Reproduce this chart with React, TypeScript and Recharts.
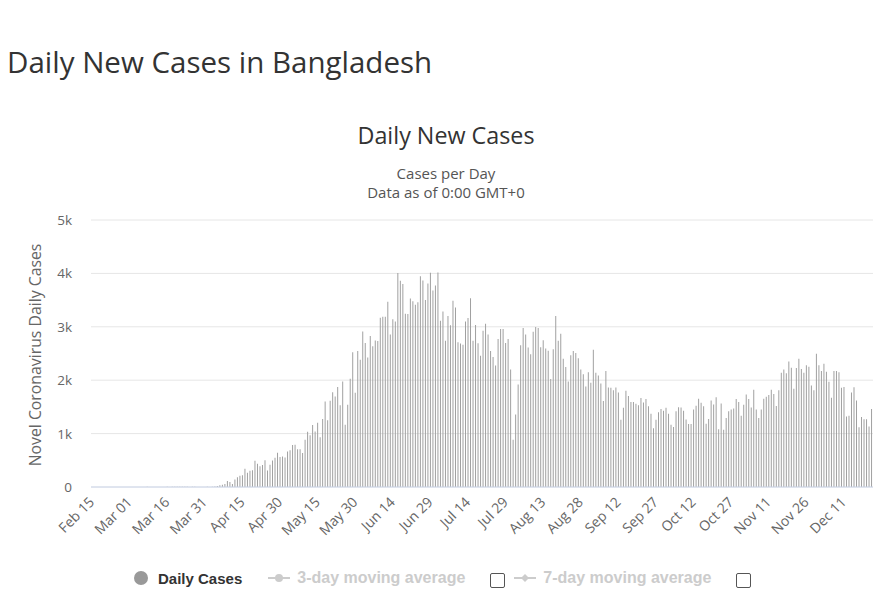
import React from 'react';
import { BarChart, Bar, XAxis, YAxis, CartesianGrid } from 'recharts';

// daily new cases, Feb 15 – Dec 22 2020, split by month
const casesFeb = [0, 0, 0, 0, 0, 0, 0, 0, 0, 0, 0, 0, 0, 0, 0];
const casesMar = [
  0, 0, 0, 0, 0, 0, 0, 3, 0, 0, 0, 0, 0, 2, 0, 3, 2, 4, 3, 3, 4, 3, 6, 6, 0, 5, 4, 0, 0, 1, 2,
];
const casesApr = [
  3, 2, 5, 9, 18, 35, 41, 54, 112, 94, 58, 139, 182, 209, 219, 341, 266, 306, 312, 492, 434, 390,
  414, 503, 309, 418, 497, 549, 641, 564,
];
const casesMay = [
  571, 552, 665, 688, 786, 790, 706, 709, 636, 887, 1034, 969, 1162, 1041, 1202, 930, 1273, 1602,
  1251, 1617, 1773, 1694, 1873, 1532, 1975, 1166, 1541, 2029, 2523, 1764, 2545,
];
const casesJun = [
  2381, 2911, 2695, 2423, 2828, 2635, 2743, 2735, 3171, 3190, 3187, 3471, 2856, 3141, 3099, 4008,
  3862, 3803, 3243, 3240, 3531, 3480, 3412, 3462, 3946, 3868, 3504, 3809, 4014, 3682,
];
const casesJul = [
  3775, 4019, 3114, 3288, 2738, 3201, 3027, 3489, 3360, 2709, 2686, 2666, 3099, 3163, 3533, 2740,
  3034, 2690, 2459, 2928, 3057, 2856, 2548, 2436, 2275, 2772, 2960, 2960, 2695, 2772, 2199,
];
const casesAug = [
  887, 1356, 1918, 2654, 2977, 2858, 2611, 2487, 2907, 2996, 2977, 2617, 2747, 2595, 2550, 2024,
  2580, 3200, 2740, 2868, 2401, 2245, 1974, 2465, 2545, 2511, 2409, 2202, 2111, 1881, 2150,
];
const casesSep = [
  1950, 2572, 2141, 2090, 1940, 1610, 2172, 1864, 1857, 1812, 1862, 1772, 1260, 1482, 1803, 1702,
  1593, 1590, 1557, 1532, 1666, 1582, 1650, 1514, 1373, 1101, 1260, 1400, 1461, 1430,
];
const casesOct = [
  1482, 1370, 1164, 1125, 1420, 1492, 1488, 1430, 1264, 1182, 1178, 1452, 1521, 1652, 1577, 1512,
  1183, 1274, 1620, 1543, 1681, 1082, 1563, 1070, 1293, 1420, 1452, 1470, 1646, 1594, 1332,
];
const casesNov = [
  1541, 1732, 1648, 1491, 1820, 1452, 1291, 1450, 1652, 1690, 1721, 1820, 1740, 1517, 1810, 2140,
  2201, 2130, 2350, 2234, 1840, 2230, 2401, 2212, 2139, 2279, 2250, 1902, 1812, 2496,
];
const casesDec = [
  2278, 2170, 2310, 2160, 1970, 1671, 2172, 2170, 2150, 1860, 1873, 1322, 1334, 1771, 1870, 1620,
  1120, 1313, 1270, 1268, 1132, 1460,
];

const dailyCases = [
  ...casesFeb, ...casesMar, ...casesApr, ...casesMay, ...casesJun, ...casesJul,
  ...casesAug, ...casesSep, ...casesOct, ...casesNov, ...casesDec,
];

const monthNames = ['Jan', 'Feb', 'Mar', 'Apr', 'May', 'Jun', 'Jul', 'Aug', 'Sep', 'Oct', 'Nov', 'Dec'];
const yTicks = [0, 1000, 2000, 3000, 4000, 5000];

const data = dailyCases.map((cases, i) => {
  const d = new Date(Date.UTC(2020, 1, 15 + i));
  return {
    date: `${monthNames[d.getUTCMonth()]} ${String(d.getUTCDate()).padStart(2, '0')}`,
    cases,
  };
});

const font = "'Open Sans', sans-serif";

const XTick = ({ x, y, payload }: any) => {
  const ax = x + 3;
  const ay = y + 8;
  return (
    <text
      x={ax}
      y={ay}
      transform={`rotate(-45 ${ax} ${ay})`}
      textAnchor="end"
      fontSize={14}
      fill="#666"
      fontFamily={font}
    >
      {payload.value}
    </text>
  );
};

const YTick = ({ y, payload }: any) => (
  <text x={72} y={y + 5} textAnchor="end" fontSize={13.5} fill="#666" fontFamily={font}>
    {payload.value === 0 ? '0' : `${payload.value / 1000}k`}
  </text>
);

const LineMarker = ({ diamond }: { diamond?: boolean }) => (
  <svg width={22} height={12} style={{ marginRight: 7 }}>
    <line x1={0} y1={6} x2={22} y2={6} stroke="#ccc" strokeWidth={2} />
    {diamond ? (
      <path d="M11 2 L15 6 L11 10 L7 6 Z" fill="#ccc" />
    ) : (
      <circle cx={11} cy={6} r={4} fill="#ccc" />
    )}
  </svg>
);

const CheckBox = () => (
  <span
    style={{
      display: 'inline-block',
      width: 13,
      height: 13,
      marginTop: 5,
      border: '1px solid #555',
      borderRadius: 2,
      background: '#fff',
    }}
  />
);

const subStyle: React.CSSProperties = {
  position: 'absolute',
  left: 0,
  width: 892,
  textAlign: 'center',
  fontSize: 15,
  lineHeight: '16px',
  color: '#555',
};

export default function App() {
  return (
    <div
      style={{
        position: 'absolute',
        left: 0,
        top: 0,
        width: 887,
        height: 607,
        background: '#fff',
        fontFamily: font,
        overflow: 'hidden',
      }}
    >
      <div style={{ position: 'absolute', left: 7, top: 41, fontSize: 29.5, color: '#333' }}>
        Daily New Cases in Bangladesh
      </div>
      <div
        style={{ position: 'absolute', left: 0, width: 892, top: 119, textAlign: 'center', fontSize: 23.3, color: '#333' }}
      >
        Daily New Cases
      </div>
      <div style={{ ...subStyle, top: 165 }}>Cases per Day</div>
      <div style={{ ...subStyle, top: 184 }}>Data as of 0:00 GMT+0</div>
      <div
        style={{
          position: 'absolute',
          left: 35,
          top: 355,
          transform: 'translate(-50%, -50%) rotate(-90deg)',
          whiteSpace: 'nowrap',
          fontSize: 15.8,
          color: '#666',
        }}
      >
        Novel Coronavirus Daily Cases
      </div>

      <div style={{ position: 'absolute', left: 0, top: 0 }}>
        <BarChart
          width={887}
          height={607}
          data={data}
          margin={{ top: 220, right: 14, left: 0, bottom: 60 }}
          barCategoryGap="22%"
        >
          <CartesianGrid vertical={false} stroke="#e6e6e6" />
          <XAxis
            dataKey="date"
            interval={14}
            tick={<XTick />}
            tickLine={false}
            axisLine={{ stroke: '#ccd6eb' }}
            height={60}
          />
          <YAxis
            domain={[0, 5000]}
            ticks={yTicks}
            tick={<YTick />}
            axisLine={false}
            tickLine={false}
            width={91}
          />
          <Bar dataKey="cases" fill="#a0a0a0" isAnimationActive={false} />
        </BarChart>
      </div>

      <div
        style={{
          position: 'absolute',
          top: 568,
          left: 134,
          display: 'flex',
          alignItems: 'center',
          fontFamily: "'Liberation Sans', Arial, sans-serif",
          fontWeight: 'bold',
          height: 20,
        }}
      >
        <span
          style={{ width: 14, height: 14, borderRadius: 7, background: '#999', display: 'inline-block', marginRight: 10 }}
        />
        <span style={{ color: '#333', fontSize: 15, marginRight: 26 }}>Daily Cases</span>
        <LineMarker />
        <span style={{ color: '#ccc', fontSize: 16, marginRight: 25 }}>3-day moving average</span>
        <CheckBox />
        <span style={{ width: 9 }} />
        <LineMarker diamond />
        <span style={{ color: '#ccc', fontSize: 16, marginRight: 25 }}>7-day moving average</span>
        <CheckBox />
      </div>
    </div>
  );
}
